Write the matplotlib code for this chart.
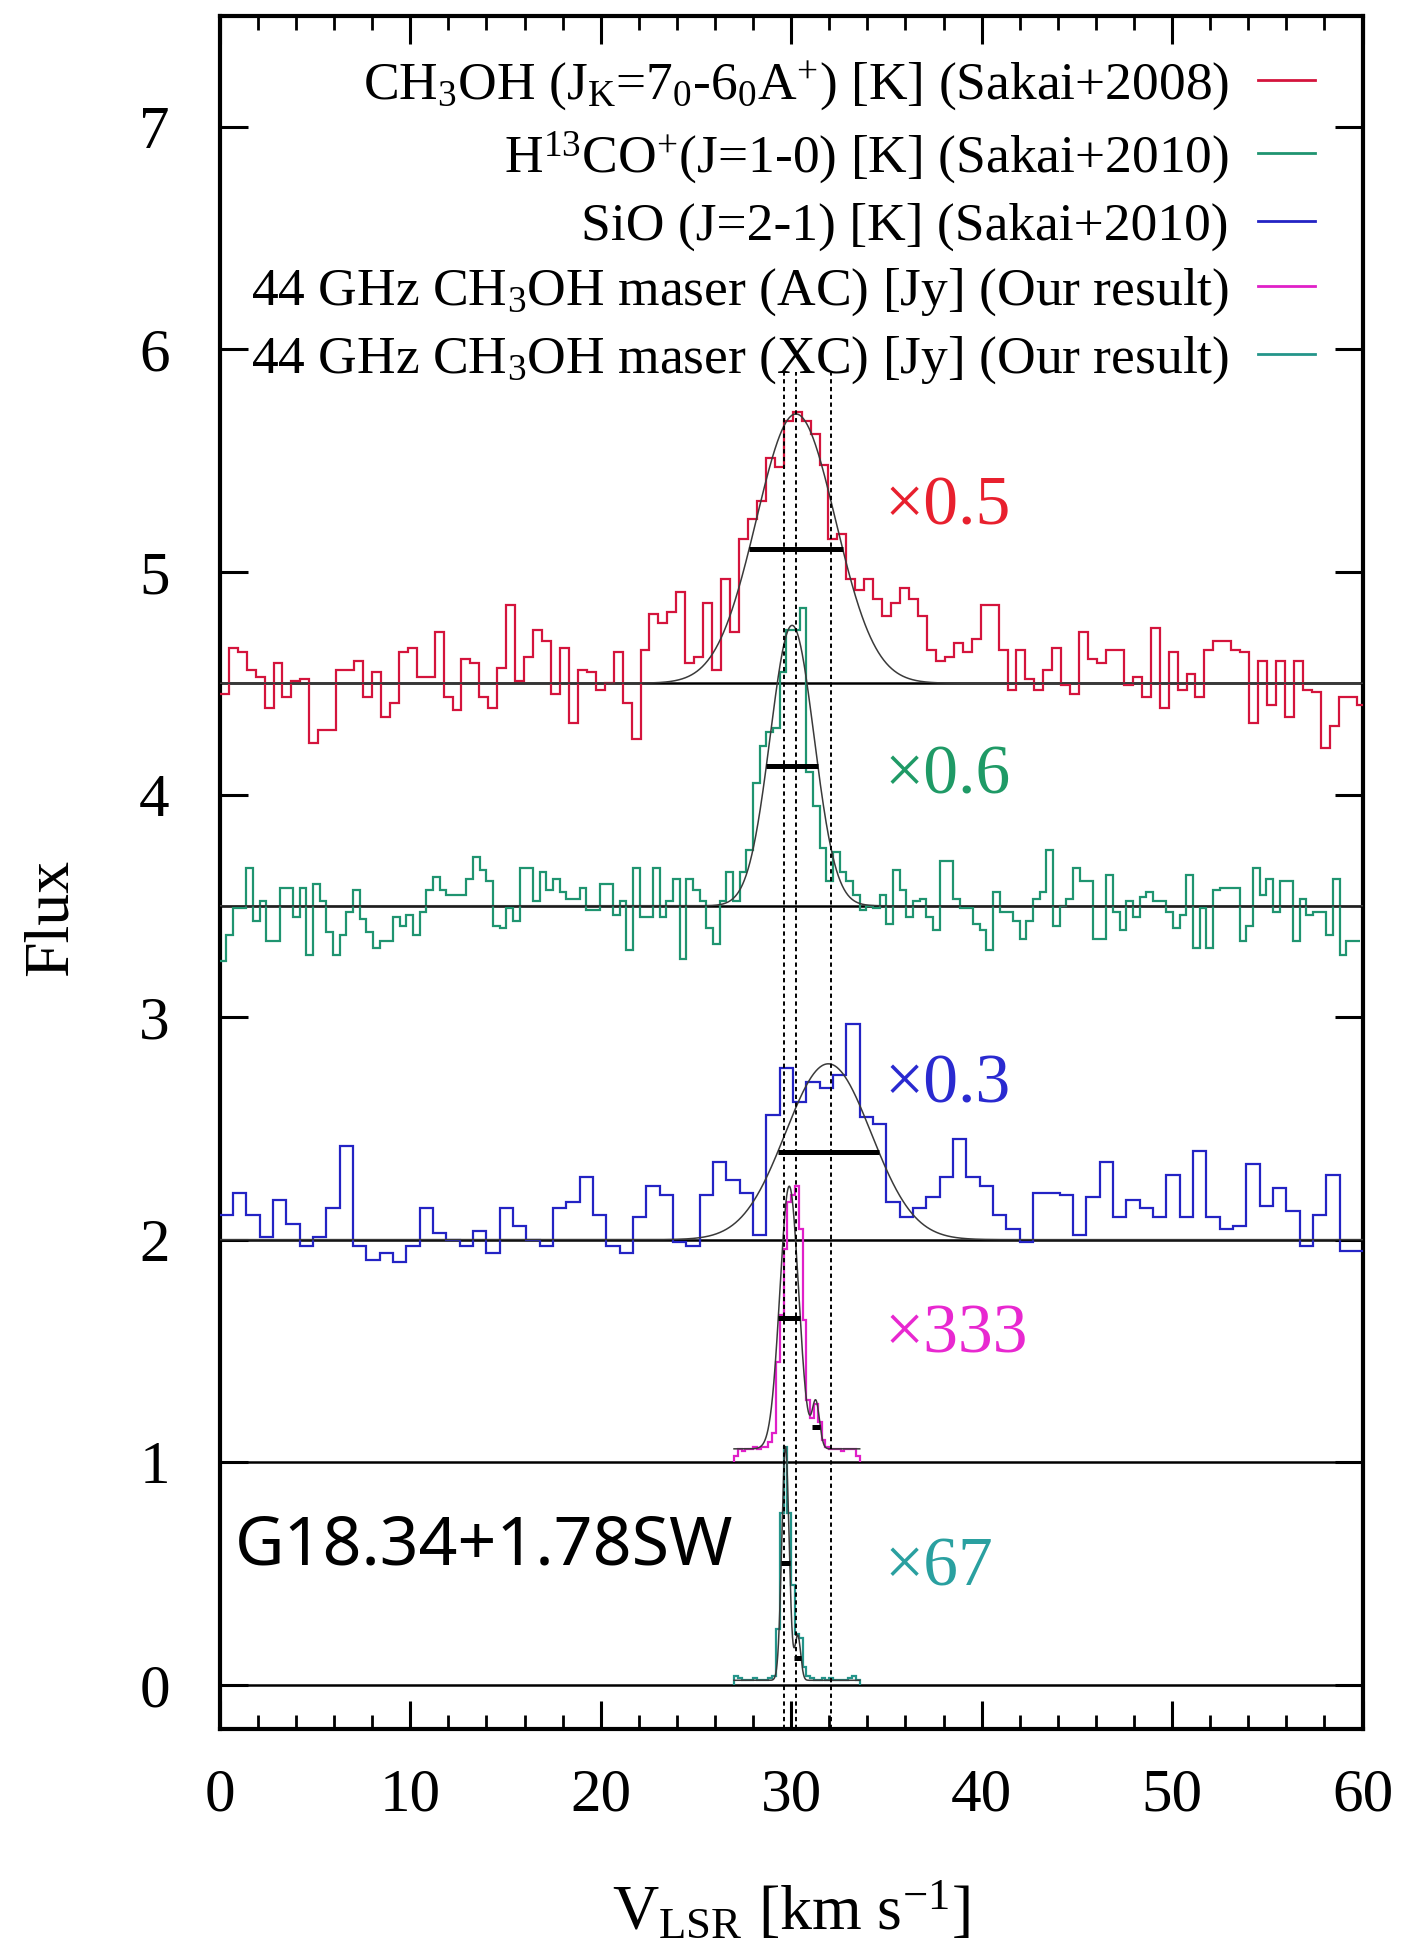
import numpy as np
import matplotlib
matplotlib.use("Agg")
import matplotlib.pyplot as plt
from matplotlib.lines import Line2D

plt.rcParams['font.family'] = ['Liberation Serif', 'DejaVu Serif']
plt.rcParams['mathtext.fontset'] = 'custom'
plt.rcParams['mathtext.rm'] = 'Liberation Serif'
plt.rcParams['mathtext.it'] = 'Liberation Serif:italic'
plt.rcParams['mathtext.bf'] = 'Liberation Serif:bold'

# ---------------- data ----------------
# CH3OH (Sakai+2008), scaled x0.5, offset baseline 4.5; channel width 0.47 km/s from 0
ch3oh_start, ch3oh_dv = 0.0, 0.47
ch3oh = [4.45, 4.66, 4.64, 4.56, 4.53, 4.39, 4.59, 4.44, 4.51, 4.52,
         4.23, 4.29, 4.29, 4.56, 4.56, 4.60, 4.44, 4.55, 4.35, 4.41,
         4.64, 4.66, 4.53, 4.53, 4.73, 4.44, 4.38, 4.61, 4.59, 4.44,
         4.39, 4.57, 4.85, 4.51, 4.62, 4.74, 4.69, 4.45, 4.66, 4.32,
         4.56, 4.55, 4.47, 4.50, 4.64, 4.41, 4.25, 4.65, 4.81, 4.77,
         4.82, 4.91, 4.59, 4.62, 4.86, 4.56, 4.97, 4.73, 5.15, 5.24,
         5.32, 5.51, 5.47, 5.68, 5.72, 5.68, 5.62, 5.48, 5.15, 5.17,
         4.97, 4.92, 4.97, 4.88, 4.80, 4.86, 4.93, 4.88, 4.80, 4.65,
         4.60, 4.62, 4.68, 4.64, 4.70, 4.85, 4.85, 4.65, 4.47, 4.65,
         4.52, 4.47, 4.56, 4.66, 4.49, 4.45, 4.73, 4.61, 4.59, 4.65,
         4.65, 4.49, 4.53, 4.44, 4.75, 4.39, 4.64, 4.47, 4.54, 4.44,
         4.65, 4.69, 4.69, 4.65, 4.64, 4.32, 4.60, 4.40, 4.60, 4.35,
         4.60, 4.47, 4.46, 4.21, 4.31, 4.44, 4.44, 4.40]

# H13CO+ (Sakai+2010), x0.6, baseline 3.5; channel width 0.35 km/s
h13co_start, h13co_dv = 0.0, 0.35
h13co = [3.25, 3.37, 3.49, 3.49, 3.67, 3.43, 3.52, 3.34, 3.34, 3.58,
         3.58, 3.45, 3.58, 3.28, 3.60, 3.52, 3.38, 3.28, 3.37, 3.47,
         3.57, 3.44, 3.38, 3.31, 3.34, 3.34, 3.45, 3.41, 3.46, 3.37,
         3.47, 3.57, 3.63, 3.57, 3.55, 3.55, 3.55, 3.62, 3.72, 3.66,
         3.61, 3.41, 3.40, 3.49, 3.43, 3.67, 3.67, 3.52, 3.65, 3.57,
         3.62, 3.56, 3.53, 3.53, 3.58, 3.48, 3.48, 3.60, 3.60, 3.46,
         3.52, 3.30, 3.67, 3.45, 3.45, 3.67, 3.45, 3.52, 3.62, 3.26,
         3.62, 3.57, 3.52, 3.40, 3.33, 3.52, 3.65, 3.52, 3.65, 3.75,
         4.05, 4.22, 4.28, 4.30, 4.55, 4.74, 4.74, 4.84, 4.10, 3.95,
         3.76, 3.61, 3.74, 3.65, 3.61, 3.55, 3.48, 3.50, 3.49, 3.55,
         3.42, 3.66, 3.57, 3.45, 3.52, 3.53, 3.45, 3.39, 3.70, 3.70,
         3.53, 3.49, 3.49, 3.42, 3.39, 3.30, 3.56, 3.47, 3.47, 3.43,
         3.35, 3.43, 3.53, 3.56, 3.75, 3.41, 3.50, 3.53, 3.67, 3.61,
         3.61, 3.35, 3.35, 3.64, 3.47, 3.39, 3.52, 3.45, 3.54, 3.56,
         3.52, 3.52, 3.47, 3.40, 3.46, 3.64, 3.31, 3.49, 3.31, 3.57,
         3.58, 3.58, 3.58, 3.34, 3.41, 3.67, 3.55, 3.62, 3.47, 3.61,
         3.61, 3.34, 3.53, 3.46, 3.47, 3.47, 3.37, 3.62, 3.28, 3.34,
         3.34]

# SiO (Sakai+2010), x0.3, baseline 2.0; channel width 0.7 km/s
sio_start, sio_dv = 0.0, 0.7
sio = [2.11, 2.21, 2.11, 2.01, 2.18, 2.07, 1.97, 2.01, 2.14, 2.42,
       1.97, 1.91, 1.94, 1.90, 1.97, 2.14, 2.03, 2.00, 1.97, 2.04,
       1.94, 2.14, 2.06, 2.00, 1.97, 2.14, 2.17, 2.28, 2.11, 1.97,
       1.94, 2.10, 2.24, 2.20, 1.99, 1.97, 2.20, 2.35, 2.27, 2.21,
       2.02, 2.56, 2.77, 2.62, 2.71, 2.68, 2.74, 2.97, 2.55, 2.52,
       2.17, 2.10, 2.14, 2.19, 2.28, 2.45, 2.28, 2.24, 2.11, 2.05,
       1.99, 2.21, 2.21, 2.20, 2.02, 2.19, 2.35, 2.10, 2.18, 2.14,
       2.10, 2.29, 2.10, 2.40, 2.10, 2.05, 2.06, 2.34, 2.15, 2.23,
       2.13, 1.97, 2.11, 2.29, 1.95, 1.95]

# 44 GHz CH3OH maser, AC (x333, baseline 1.0) and XC (x67, baseline 0.0); 0.2 km/s from 27.0
maser_start, maser_dv = 27.0, 0.2
maser_ac = [1.03, 1.06, 1.05, 1.06, 1.06, 1.07, 1.06, 1.07, 1.07, 1.09,
            1.13, 1.45, 1.66, 1.96, 2.17, 2.20, 2.24, 2.05, 1.64, 1.28,
            1.20, 1.26, 1.18, 1.10, 1.07, 1.06, 1.06, 1.06, 1.05, 1.06,
            1.06, 1.06, 1.03]
maser_xc = [0.04, 0.03, 0.02, 0.02, 0.02, 0.03, 0.02, 0.02, 0.02, 0.03,
            0.04, 0.25, 0.77, 1.07, 0.77, 0.45, 0.23, 0.21, 0.08, 0.04,
            0.03, 0.02, 0.02, 0.03, 0.02, 0.03, 0.02, 0.02, 0.02, 0.02,
            0.03, 0.04, 0.02]

baselines = [4.5, 3.5, 2.0, 1.0, 0.0]

# Gaussian fits: (base, amplitude, centre, FWHM); plotted over [vmin, vmax]
fit_ch3oh = [(4.5, 1.21, 30.25, 4.9)]
fit_h13co = [(3.5, 1.26, 30.05, 2.7)]
fit_sio = [(2.0, 0.79, 31.95, 5.3)]
fit_ac = [(1.06, 1.18, 29.9, 1.15), (1.06, 0.20, 31.3, 0.45)]
fit_xc = [(0.02, 1.05, 29.7, 0.45), (0.02, 0.20, 30.35, 0.35)]
fit_ranges = [(0, 60), (0, 60), (0, 60), (27.0, 33.6), (27.0, 33.6)]

vlines_v = [29.65, 30.25, 32.1]

scale_labels = ['×0.5', '×0.6', '×0.3', '×333', '×67']
scale_y = [5.29, 4.08, 2.69, 1.57, 0.52]
scale_x = 34.9

labels = [r'CH$_{3}$OH (J$_{\mathrm{K}}$=7$_{0}$-6$_{0}$A$^{+}$) [K] (Sakai+2008)',
          r'H$^{13}$CO$^{+}$(J=1-0) [K] (Sakai+2010)',
          'SiO (J=2-1) [K] (Sakai+2010)',
          r'44 GHz CH$_{3}$OH maser (AC) [Jy] (Our result)',
          r'44 GHz CH$_{3}$OH maser (XC) [Jy] (Our result)']
colors = ['#d4143c', '#1f9470', '#2323c4', '#e020c8', '#24958a']
label_colors = ['#e8202e', '#1f9a66', '#2a2ad0', '#e828d0', '#2aa0a0']

# ---------------- figure ----------------
fig = plt.figure(figsize=(14.09, 19.43), dpi=100)
ax = fig.add_axes([0.156, 0.110, 0.811, 0.882])
ax.set_xlim(0, 60)
ax.set_ylim(-0.2, 7.5)

for b in baselines:
    ax.axhline(b, color='black', lw=1.8, zorder=2)

def edges(start, dv, n):
    return start + dv * np.arange(n + 1)

ax.stairs(ch3oh, edges(ch3oh_start, ch3oh_dv, len(ch3oh)), baseline=None,
          color=colors[0], lw=1.6, zorder=3)
ax.stairs(h13co, edges(h13co_start, h13co_dv, len(h13co)), baseline=None,
          color=colors[1], lw=1.6, zorder=3)
ax.stairs(sio, edges(sio_start, sio_dv, len(sio)), baseline=None,
          color=colors[2], lw=1.6, zorder=3)
ax.stairs(maser_ac, edges(maser_start, maser_dv, len(maser_ac)), baseline=1.0,
          color=colors[3], lw=1.6, zorder=3)
ax.stairs(maser_xc, edges(maser_start, maser_dv, len(maser_xc)), baseline=0.0,
          color=colors[4], lw=1.6, zorder=3)

for fits, (v0, v1) in zip([fit_ch3oh, fit_h13co, fit_sio, fit_ac, fit_xc], fit_ranges):
    vfine = np.linspace(v0, v1, 3001)
    base = fits[0][0]
    model = np.full_like(vfine, base)
    for (b, a, c, w) in fits:
        model += a * np.exp(-4 * np.log(2) * ((vfine - c) / w) ** 2)
    ax.plot(vfine, model, color='#3a3a3a', lw=1.1, zorder=4)
    for (b, a, c, w) in fits:
        ax.hlines(b + a / 2, c - w / 2, c + w / 2, color='black', lw=3.6, zorder=5)

ax.vlines(vlines_v, -0.2, 5.9, colors='black', linestyles=(0, (2.2, 1.8)),
          lw=1.4, zorder=4)

for s, y, c in zip(scale_labels, scale_y, label_colors):
    ax.text(scale_x, y, s, color=c, fontsize=50, ha='left', va='center')

ax.text(0.8, 0.62, 'G18.34+1.78SW', fontsize=49, family=['Noto Sans', 'DejaVu Sans'],
        ha='left', va='center', color='black')

handles = [Line2D([0], [0], color=c, lw=2.0) for c in colors]
ax.legend(handles, labels, loc='upper right', bbox_to_anchor=(0.958, 0.9745),
          frameon=False, markerfirst=False, alignment='right', fontsize=38.5,
          handlelength=1.05, handletextpad=0.55, labelspacing=0.3,
          borderaxespad=0, borderpad=0)

# axes styling
for sp in ax.spines.values():
    sp.set_linewidth(3.0)
ax.set_xticks(np.arange(0, 61, 10))
ax.set_xticks(np.arange(0, 61, 2), minor=True)
ax.set_yticks(np.arange(0, 8, 1))
ax.tick_params(axis='both', which='major', direction='in', length=20, width=2.2,
               top=True, right=True, labelsize=44)
ax.tick_params(axis='x', which='minor', direction='in', length=10, width=2.0,
               top=True, bottom=True)
ax.tick_params(axis='x', which='major', pad=28)
ax.tick_params(axis='y', which='major', pad=36)

ax.set_xlabel(r'V$_{\mathrm{LSR}}$ [km s$^{\mathrm{-1}}$]', fontsize=46)
ax.xaxis.set_label_coords(0.5, -0.107)
ax.xaxis.label.set_verticalalignment('center')
ax.set_ylabel('Flux', fontsize=46)
ax.yaxis.set_label_coords(-0.147, 0.474)
ax.yaxis.label.set_verticalalignment('center')

fig.savefig('out.png', dpi=100)
